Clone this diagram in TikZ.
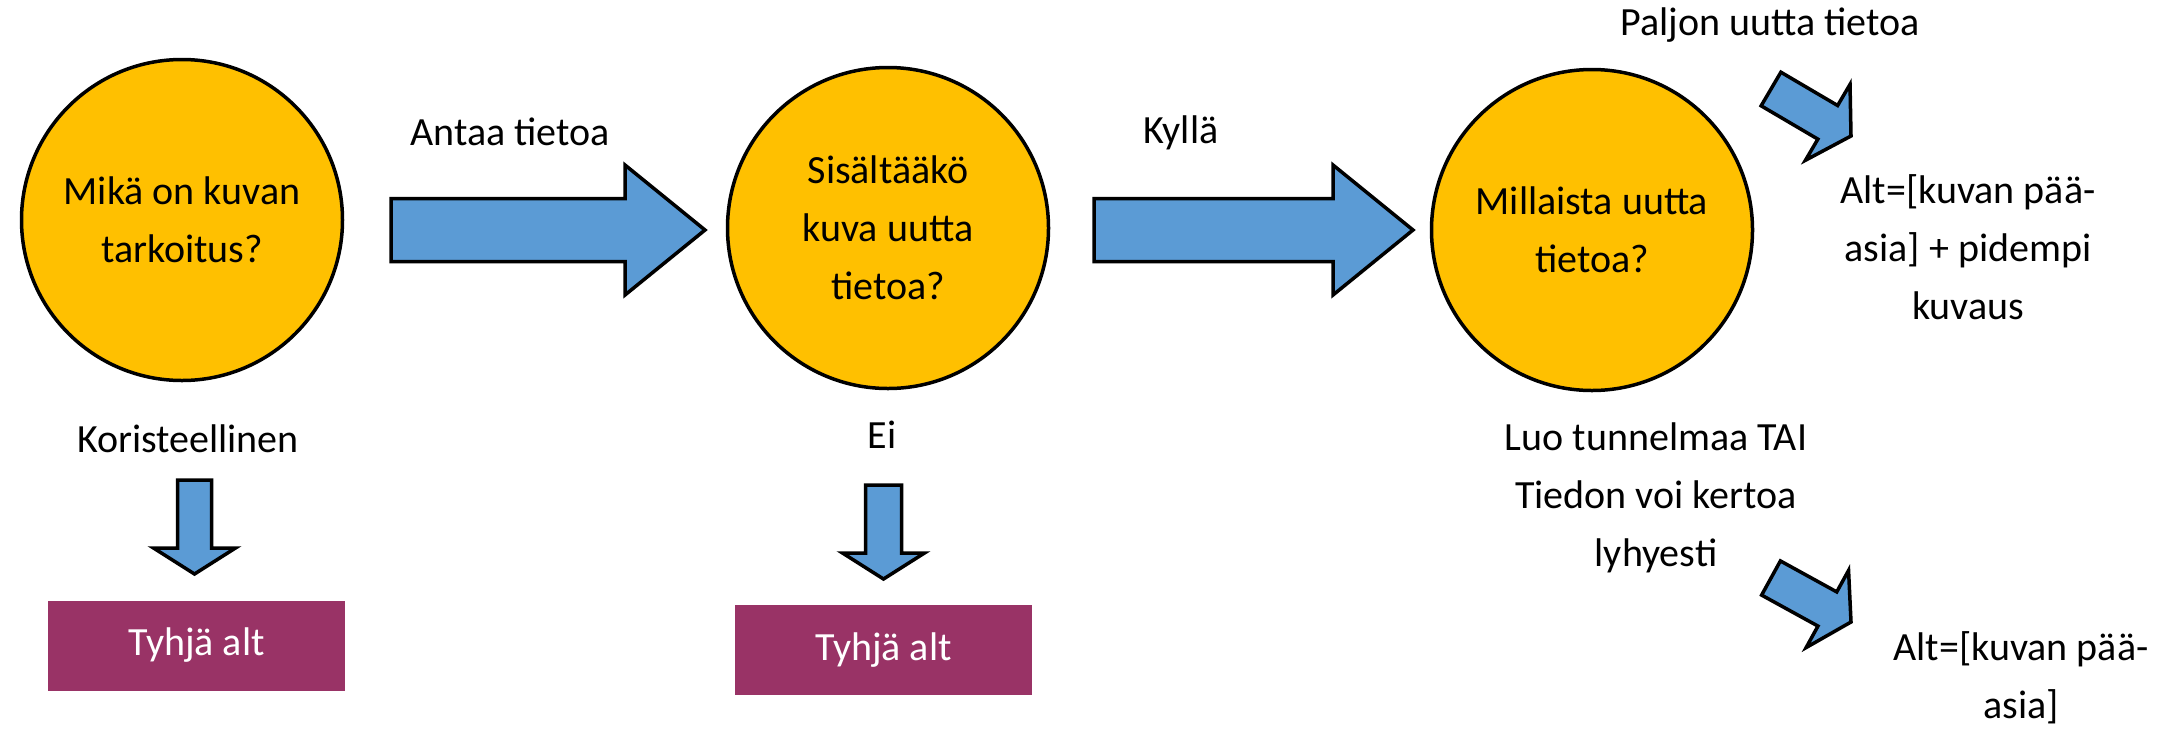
\documentclass[tikz,border=0pt]{standalone}
\usepackage{fontspec}
\setmainfont{Carlito}
\usetikzlibrary{calc}
\definecolor{gold}{HTML}{FFC000}
\definecolor{ablue}{HTML}{5B9BD5}
\definecolor{plum}{HTML}{993366}
% #1 name, #2 tail coordinate, #3 tip coordinate, #4 shaft half width, #5 head half width, #6 head length
\newcommand\blkarrow[6]{%
  \coordinate (#1-h) at ($(#3)!#6!(#2)$);
  \draw[blockarrow] ($(#2)!#4!90:(#3)$) -- ($(#1-h)!#4!90:(#3)$) -- ($(#1-h)!#5!90:(#3)$)
    -- (#3) -- ($(#1-h)!#5!-90:(#3)$) -- ($(#1-h)!#4!-90:(#3)$) -- ($(#2)!#4!-90:(#3)$) -- cycle;
}
\begin{document}
\begin{tikzpicture}[x=1pt,y=-1pt,
  every node/.style={font=\fontsize{40}{58}\selectfont, align=center, inner sep=0pt},
  question/.style={circle, draw=black, line width=3.5pt, fill=gold, minimum size=321pt},
  altbox/.style={fill=plum, text=white, minimum width=297pt, minimum height=90pt},
  blockarrow/.style={draw=black, line width=3.5pt, fill=ablue, line join=miter}]
\useasboundingbox (0,0) rectangle (2175,732);

% question circles
\node[question] (c1) at (182,220) {Mikä on kuvan\\tarkoitus?};
\node[question] (c2) at (888,228) {Sisältääkö\\kuva uutta\\tietoa?};
\node[question] (c3) at (1592,230) {Millaista uutta\\tietoa?};

% result boxes
\node[altbox] (b1) at (196.5,645.5) {Tyhjä alt};
\node[altbox] (b2) at (883.5,650) {Tyhjä alt};

% labels
\node (lAntaa) at (510,132) {Antaa tietoa};
\node (lKylla) at (1181,133) {Kyllä};
\node (lKor) at (188,439) {Koristeellinen};
\node (lEi) at (882,435) {Ei};
\node (lPaljon) at (1770,25) {Paljon uutta tietoa};
\node (lLuo) at (1656,498) {Luo tunnelmaa TAI\\Tiedon voi kertoa\\lyhyesti};
\node (alt1) at (1968,247) {Alt=[kuvan pää-\\asia] + pidempi\\kuvaus};
\node (alt2) at (2021,678) {Alt=[kuvan pää-\\asia]};

% arrow end points
\coordinate (a1s) at (391,230);    \coordinate (a1e) at (705,230);
\coordinate (a2s) at (1094,230);   \coordinate (a2e) at (1413,230);
\coordinate (d1s) at (194.5,480);  \coordinate (d1e) at (194.5,574);
\coordinate (d2s) at (883.5,485);  \coordinate (d2e) at (883.5,579);
\coordinate (s1s) at (1771,89);    \coordinate (s1e) at (1851,136);
\coordinate (s2s) at (1771,578);   \coordinate (s2e) at (1851,622);

\blkarrow{a1}{a1s}{a1e}{31.5pt}{65pt}{80pt}
\blkarrow{a2}{a2s}{a2e}{31.5pt}{65pt}{80pt}
\blkarrow{d1}{d1s}{d1e}{17pt}{41pt}{26pt}
\blkarrow{d2}{d2s}{d2e}{18pt}{41pt}{26pt}
\blkarrow{s1}{s1s}{s1e}{19.5pt}{44pt}{27pt}
\blkarrow{s2}{s2s}{s2e}{19.5pt}{44pt}{27pt}
\end{tikzpicture}
\end{document}
